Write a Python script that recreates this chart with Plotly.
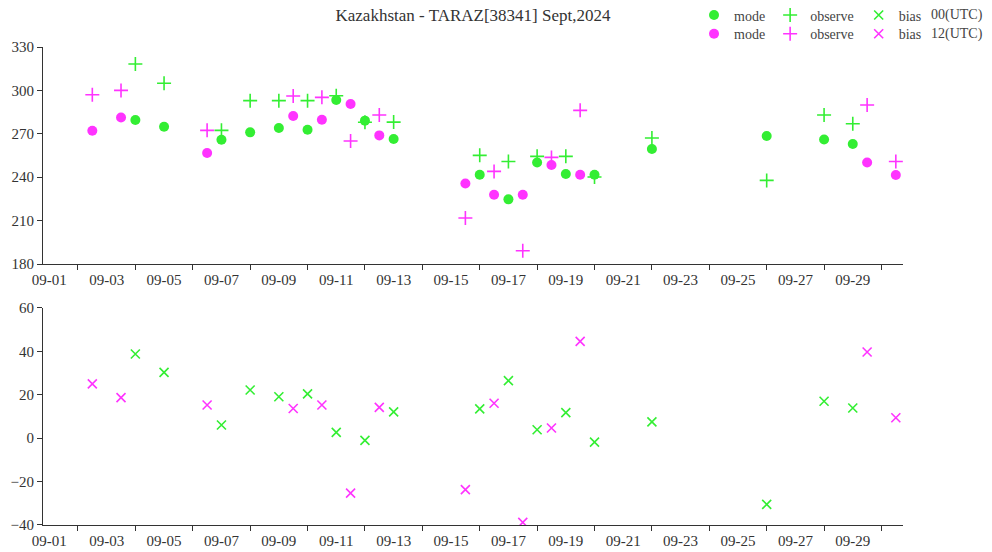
import plotly.graph_objects as go
from plotly.subplots import make_subplots

# ---- data ----
days_00 = [4, 5, 7, 8, 9, 10, 11, 12, 13, 16, 17, 18, 19, 20, 22, 26, 28, 29]
mode_00 = [279.5, 274.9, 265.9, 271.0, 274.0, 272.8, 293.4, 279.1, 266.4,
           241.7, 224.7, 250.2, 242.2, 241.7, 259.5, 268.5, 266.1, 263.0]
obs_00 = [318.2, 304.9, 272.4, 292.9, 292.9, 292.9, 296.3, 278.0, 278.1,
          255.1, 250.9, 254.4, 254.4, 240.1, 267.1, 237.8, 283.0, 277.0]
bias_00 = [38.8, 30.3, 6.1, 22.2, 19.1, 20.4, 2.7, -1.0, 12.1,
           13.5, 26.5, 3.9, 11.8, -1.8, 7.5, -30.5, 17.0, 13.9]

days_12 = [2, 3, 6, 9, 10, 11, 12, 15, 16, 17, 18, 19, 29, 30]
mode_12 = [272.1, 281.3, 256.7, 282.3, 279.7, 290.6, 268.9,
           235.7, 227.9, 227.9, 248.4, 241.7, 250.2, 241.5]
obs_12 = [297.0, 300.0, 272.4, 296.1, 295.2, 265.0, 283.0,
          211.8, 244.0, 189.2, 253.7, 286.2, 289.9, 250.9]
bias_12 = [25.0, 18.7, 15.3, 13.7, 15.3, -25.3, 14.2,
           -23.7, 16.1, -38.8, 4.7, 44.6, 39.7, 9.4]

label_days = list(range(1, 30, 2))
tick_days = list(range(2, 31, 2))
tick_labels = [f"09-{d:02d}" for d in label_days]

title = "Kazakhstan - TARAZ[38341] Sept,2024"

GREEN = "#33ee33"
MAGENTA = "#ff33ff"
AX = "#333333"
FONT = "Liberation Serif"

x00 = [f"2024-09-{d:02d} 00:00" for d in days_00]
x12 = [f"2024-09-{d:02d} 12:00" for d in days_12]

fig = make_subplots(rows=2, cols=1, shared_xaxes=False, vertical_spacing=0.092)

def add(x, y, row, sym, color, name, legend, size, show=True):
    if sym == "circle":
        marker = dict(symbol="circle", size=size, color=color)
    else:
        marker = dict(symbol=sym, size=size, color=color,
                      line=dict(color=color, width=1.6))
    fig.add_trace(go.Scatter(x=x, y=y, mode="markers", marker=marker, name=name,
                             legend=legend, showlegend=show), row=row, col=1)

add(x00, mode_00, 1, "circle", GREEN, "mode", "legend", 10)
add(x12, mode_12, 1, "circle", MAGENTA, "mode", "legend2", 10)
add(x00, obs_00, 1, "cross-thin-open", GREEN, "observe", "legend", 10)
add(x12, obs_12, 1, "cross-thin-open", MAGENTA, "observe", "legend2", 10)
add(x00, bias_00, 2, "x-thin-open", GREEN, "bias", "legend", 9)
add(x12, bias_12, 2, "x-thin-open", MAGENTA, "bias", "legend2", 9)

xr = ["2024-08-31 18:45", "2024-09-30 18:00"]
xcommon = dict(
    type="date", range=xr, showline=True, linecolor=AX, linewidth=1,
    showgrid=False, zeroline=False, ticks="",
    tickmode="array",
    tickvals=[f"2024-09-{d:02d}" for d in label_days], ticktext=tick_labels,
    tickfont=dict(family=FONT, size=15, color=AX), ticklabelstandoff=2,
    minor=dict(tickmode="array", tickvals=[f"2024-09-{d:02d}" for d in tick_days],
               ticks="outside", ticklen=5, tickcolor=AX, tickwidth=1, showgrid=False),
)
fig.update_xaxes(**xcommon, row=1, col=1)
fig.update_xaxes(**xcommon, row=2, col=1)

ycommon = dict(showline=True, linecolor=AX, linewidth=1, showgrid=False,
               zeroline=False, ticks="outside", ticklen=5, tickcolor=AX,
               tickfont=dict(family=FONT, size=15, color=AX))
fig.update_yaxes(**ycommon, range=[180, 330], dtick=30, tick0=180, row=1, col=1)
fig.update_yaxes(**ycommon, range=[-40, 60], dtick=20, tick0=-40, row=2, col=1)

leg_font = dict(family=FONT, size=14, color="#444")
LX = 0.757
fig.update_layout(
    width=992, height=552,
    margin=dict(l=43, r=89, t=47, b=27, autoexpand=False),
    plot_bgcolor="white", paper_bgcolor="white",
    title=dict(text=title, x=0.5, xref="paper", y=1 - 15 / 552, yanchor="middle",
               font=dict(family=FONT, size=17, color=AX)),
    legend=dict(orientation="h", x=LX, y=1.066, xanchor="left", yanchor="middle",
                font=leg_font, itemsizing="trace", bgcolor="rgba(0,0,0,0)"),
    legend2=dict(orientation="h", x=LX, y=1.027, xanchor="left", yanchor="middle",
                 font=leg_font, itemsizing="trace", bgcolor="rgba(0,0,0,0)"),
    annotations=[
        dict(text="00(UTC)", x=1.095, y=1.066, xref="paper", yref="paper",
             xanchor="right", yanchor="middle", showarrow=False, font=leg_font),
        dict(text="12(UTC)", x=1.095, y=1.027, xref="paper", yref="paper",
             xanchor="right", yanchor="middle", showarrow=False, font=leg_font),
    ],
)

fig.write_html("out.html",
               config={"displayModeBar": False},
               post_script="document.body.style.margin='0';"
                           "document.body.style.overflow='hidden';")
